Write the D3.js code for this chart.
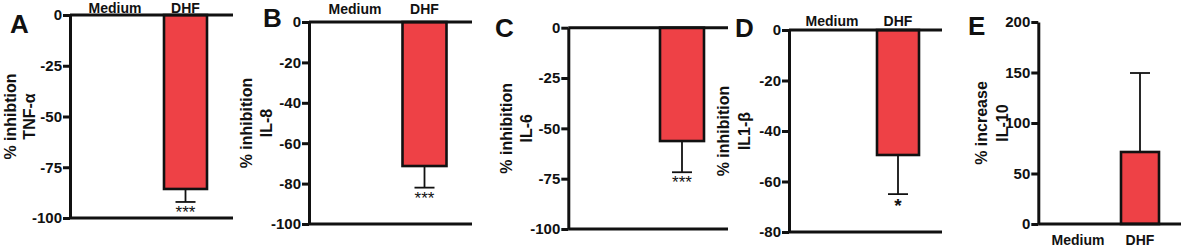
<!DOCTYPE html>
<html>
<head>
<meta charset="utf-8">
<script src="https://cdn.jsdelivr.net/npm/d3@7"></script>
<style>
  html, body { margin: 0; padding: 0; background: #fff; }
  svg { display: block; font-family: "Liberation Sans", Arial, sans-serif; }
</style>
</head>
<body>
<div id="chart"></div>
<script>
// ---- Data ----
const panelLetters = ['A', 'B', 'C', 'D', 'E'];
const categories = ['Medium', 'DHF'];
const mediumValues = [0, 0, 0, 0, 0];
const dhfValues = [-85.7, -71.3, -56.3, -49.5, 71.3];
const dhfErrors = [6.4, 10.7, 15.5, 15.5, 78.2];
const significance = ['***', '***', '***', '*', ''];
const yDomains = [[-100, 0], [-100, 0], [-100, 0], [-80, 0], [0, 200]];
const yTickValues = [
    [0, -25, -50, -75, -100],
    [0, -20, -40, -60, -80, -100],
    [0, -25, -50, -75, -100],
    [0, -20, -40, -60, -80],
    [0, 50, 100, 150, 200]
];
const yTitles = [
    ['% inhibtion', 'TNF-\u03b1'],
    ['% inhibition', 'IL-8'],
    ['% inhibition', 'IL-6'],
    ['% inhibition', 'IL1-\u03b2'],
    ['% increase', 'IL-10']
];
const categoryLabelPos = ['top', 'top', 'none', 'top', 'bottom'];

// ---- Layout (per panel) ----
const layout = [
    { axisX: 70,     yTop: 15,   yBot: 218, right: 233,  medX: 115,  dhfX: 185.5, barW: 43, catY: 12.5, letter: [10, 33],  titleX: [16, 35] },
    { axisX: 309,    yTop: 22,   yBot: 224, right: 472,  medX: 355,  dhfX: 424.5, barW: 44, catY: 14,   letter: [263, 27], titleX: [252, 272] },
    { axisX: 568.3,  yTop: 27.7, yBot: 229, right: 728,  medX: 612,  dhfX: 682,   barW: 44, catY: 0,    letter: [495, 37], titleX: [512, 532] },
    { axisX: 789,    yTop: 30,   yBot: 232, right: 942,  medX: 832,  dhfX: 898,   barW: 42, catY: 26,   letter: [735, 37], titleX: [729, 750] },
    { axisX: 1038.3, yTop: 22,   yBot: 224, right: 1181, medX: 1078, dhfX: 1140,  barW: 38, catY: 245,  letter: [968, 35], titleX: [987, 1008] }
];

const W = 1181, H = 248;
const barColor = '#ee4146';
const ink = '#111';

const svg = d3.select('#chart').append('svg')
    .attr('width', W)
    .attr('height', H);

panelLetters.forEach((letter, i) => {
    const L = layout[i];
    const g = svg.append('g');

    // Domain low -> bottom, high -> top (0 sits on top for inhibition panels)
    const y = d3.scaleLinear().domain(yDomains[i]).range([L.yBot, L.yTop]);
    const x = d3.scalePoint().domain(categories).range([L.medX, L.dhfX]);

    const values = [mediumValues[i], dhfValues[i]];

    // Bars
    g.selectAll('rect.bar')
        .data(categories.map((c, k) => ({ c, v: values[k] })).filter(d => d.v !== 0))
        .enter().append('rect')
        .attr('class', 'bar')
        .attr('x', d => x(d.c) - L.barW / 2)
        .attr('width', L.barW)
        .attr('y', d => Math.min(y(0), y(d.v)))
        .attr('height', d => Math.abs(y(d.v) - y(0)))
        .attr('fill', barColor)
        .attr('stroke', ink)
        .attr('stroke-width', 2.6);

    // Error bar (away from zero)
    const v = dhfValues[i];
    const e = v < 0 ? v - dhfErrors[i] : v + dhfErrors[i];
    const cx = x('DHF');
    g.append('line')
        .attr('x1', cx).attr('x2', cx)
        .attr('y1', y(v)).attr('y2', y(e))
        .attr('stroke', ink).attr('stroke-width', 1.8);
    g.append('line')
        .attr('x1', cx - 10).attr('x2', cx + 10)
        .attr('y1', y(e)).attr('y2', y(e))
        .attr('stroke', ink).attr('stroke-width', 1.8);

    if (significance[i]) {
        const single = significance[i] === '*';
        g.append('text')
            .attr('x', cx)
            .attr('y', y(e) + (single ? 18 : 16))
            .attr('text-anchor', 'middle')
            .style('font-size', single ? '19px' : '17px')
            .style('font-weight', single ? 'bold' : 'normal')
            .attr('fill', ink)
            .text(significance[i]);
    }

    // Horizontal frame lines
    const hLines = yDomains[i][1] > 0 ? [0] : [yDomains[i][0], 0];
    g.selectAll('line.h')
        .data(hLines)
        .enter().append('line')
        .attr('class', 'h')
        .attr('x1', L.axisX).attr('x2', L.right)
        .attr('y1', d => y(d)).attr('y2', d => y(d))
        .attr('stroke', ink).attr('stroke-width', 3);

    // Y axis
    const gy = g.append('g')
        .attr('transform', `translate(${L.axisX},0)`)
        .call(d3.axisLeft(y)
            .tickValues(yTickValues[i])
            .tickFormat(d => String(d))
            .tickSize(7).tickSizeOuter(0).tickPadding(1));
    gy.select('.domain').attr('stroke', ink).attr('stroke-width', 3);
    gy.selectAll('.tick line').attr('stroke', ink).attr('stroke-width', 3);
    gy.selectAll('.tick text')
        .attr('fill', ink)
        .style('font-family', '"Liberation Sans", Arial, sans-serif')
        .style('font-size', '15px')
        .style('font-weight', 'bold');

    // Category labels
    if (categoryLabelPos[i] !== 'none') {
        g.selectAll('text.cat')
            .data(categories)
            .enter().append('text')
            .attr('class', 'cat')
            .attr('x', d => x(d))
            .attr('y', L.catY)
            .attr('text-anchor', 'middle')
            .style('font-size', '14px')
            .style('font-weight', 'bold')
            .attr('fill', ink)
            .text(d => d);
    }

    // Y title (two lines)
    const cy = (L.yTop + L.yBot) / 2;
    yTitles[i].forEach((t, k) => {
        g.append('text')
            .attr('transform', `translate(${L.titleX[k]},${cy}) rotate(-90)`)
            .attr('text-anchor', 'middle')
            .style('font-size', '16px')
            .style('font-weight', 'bold')
            .attr('fill', ink)
            .text(t);
    });

    // Panel letter
    g.append('text')
        .attr('x', L.letter[0])
        .attr('y', L.letter[1])
        .style('font-size', '26px')
        .style('font-weight', 'bold')
        .attr('fill', ink)
        .text(letter);
});
</script>
</body>
</html>
